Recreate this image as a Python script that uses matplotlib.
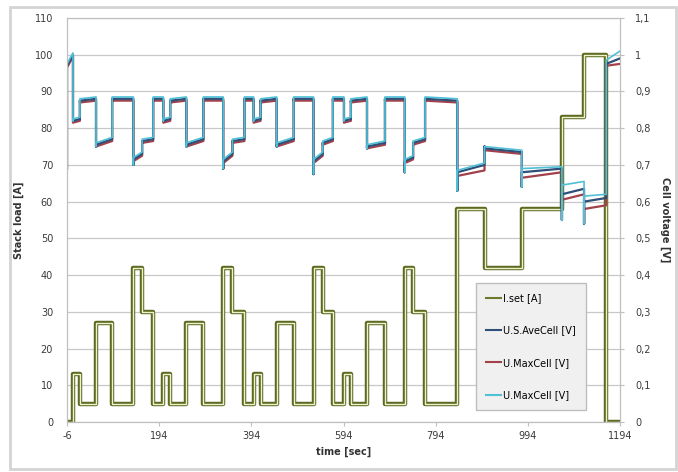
import numpy as np
import matplotlib
matplotlib.use("Agg")
import matplotlib.pyplot as plt
import matplotlib.patheffects as pe
from matplotlib.patches import Rectangle

# step segments (start time of each step, sec)
seg_start = [-6, 7, 22, 57, 92, 138, 157, 181,
             203, 218, 253, 290, 333, 353, 379,
             399, 414, 449, 486, 529, 549, 571,
             595, 610, 645, 684, 727, 745, 771,
             841, 900, 981, 1068, 1116, 1164]
t_end = 1194

# stack current set point [A]
i_set = [0, 13, 5, 27, 5, 42, 30, 5,
         13, 5, 27, 5, 42, 30, 5,
         13, 5, 27, 5, 42, 30, 5,
         13, 5, 27, 5, 42, 30, 5,
         58, 42, 58, 83, 100, 0]

# cell voltage [V]: spike at step, value at step start, value at step end
u_dip = [0.69,
         0.82, 0.875, 0.75, 0.88, 0.70, 0.765, 0.88,
         0.82, 0.875, 0.75, 0.88, 0.69, 0.765, 0.88,
         0.82, 0.875, 0.75, 0.88, 0.675, 0.76, 0.88,
         0.82, 0.875, 0.745, 0.88, 0.68, 0.76, 0.88,
         0.63, 0.75, 0.64, 0.55, 0.54, 0.975]
u_ave_start = [0.97,
               0.82, 0.875, 0.755, 0.88, 0.715, 0.765, 0.88,
               0.82, 0.875, 0.755, 0.88, 0.71, 0.765, 0.88,
               0.82, 0.875, 0.755, 0.88, 0.71, 0.76, 0.88,
               0.82, 0.875, 0.75, 0.88, 0.71, 0.76, 0.88,
               0.68, 0.745, 0.68, 0.62, 0.60, 0.975]
u_ave_end = [1.0,
             0.825, 0.88, 0.77, 0.88, 0.73, 0.77, 0.88,
             0.825, 0.88, 0.77, 0.88, 0.73, 0.77, 0.88,
             0.825, 0.88, 0.77, 0.88, 0.73, 0.77, 0.88,
             0.825, 0.88, 0.76, 0.88, 0.72, 0.77, 0.875,
             0.70, 0.735, 0.69, 0.635, 0.61, 0.99]
u_max_start = [0.965,
               0.815, 0.87, 0.75, 0.875, 0.71, 0.76, 0.875,
               0.815, 0.87, 0.75, 0.875, 0.705, 0.76, 0.875,
               0.815, 0.87, 0.75, 0.875, 0.705, 0.755, 0.875,
               0.815, 0.87, 0.745, 0.875, 0.705, 0.755, 0.875,
               0.67, 0.74, 0.665, 0.605, 0.58, 0.97]
u_max_end = [0.995,
             0.82, 0.875, 0.765, 0.875, 0.725, 0.765, 0.875,
             0.82, 0.875, 0.765, 0.875, 0.725, 0.765, 0.875,
             0.82, 0.875, 0.765, 0.875, 0.725, 0.765, 0.875,
             0.82, 0.875, 0.755, 0.875, 0.715, 0.765, 0.87,
             0.685, 0.73, 0.68, 0.62, 0.59, 0.975]
u_max2_start = [0.975,
                0.825, 0.88, 0.76, 0.885, 0.72, 0.77, 0.885,
                0.825, 0.88, 0.76, 0.885, 0.715, 0.77, 0.885,
                0.825, 0.88, 0.76, 0.885, 0.715, 0.765, 0.885,
                0.825, 0.88, 0.755, 0.885, 0.715, 0.765, 0.885,
                0.685, 0.75, 0.69, 0.645, 0.615, 0.985]
u_max2_end = [1.005,
              0.83, 0.885, 0.775, 0.885, 0.735, 0.775, 0.885,
              0.83, 0.885, 0.775, 0.885, 0.735, 0.775, 0.885,
              0.83, 0.885, 0.775, 0.885, 0.735, 0.775, 0.885,
              0.83, 0.885, 0.765, 0.885, 0.725, 0.775, 0.88,
              0.705, 0.74, 0.695, 0.655, 0.62, 1.01]

x_ticks = [-6, 194, 394, 594, 794, 994, 1194]
y_ticks = list(range(0, 111, 10))
v_ticks = [0, 0.1, 0.2, 0.3, 0.4, 0.5, 0.6, 0.7, 0.8, 0.9, 1.0, 1.1]
v_labels = ["0", "0,1", "0,2", "0,3", "0,4", "0,5", "0,6", "0,7", "0,8", "0,9", "1", "1,1"]

edges = seg_start + [t_end]


def volt_path(dip, start, end):
    xs, ys = [], []
    for k in range(len(seg_start)):
        xs += [edges[k], edges[k], edges[k + 1]]
        ys += [dip[k], start[k], end[k]]
    return xs, ys


fig = plt.figure(figsize=(6.78, 4.72), dpi=100)
fig.patches.append(Rectangle((10 / 678, 3 / 472), 666 / 678, 462 / 472, transform=fig.transFigure,
                             fill=False, edgecolor="#d4d4d4", linewidth=2))
ax = fig.add_axes([67 / 678, 50 / 472, 553 / 678, 404 / 472])
ax2 = ax.twinx()

ax.set_zorder(1)
ax.patch.set_visible(False)
ax2.set_zorder(2)

for a in (ax, ax2):
    for s in a.spines.values():
        s.set_color("#bfbfbf")
        s.set_linewidth(0.8)

ax.grid(axis="y", color="#c8c8c8", linewidth=0.9)
ax.set_axisbelow(True)

i_line, = ax.step(edges, i_set + [i_set[-1]], where="post", color="#6b7a2c", linewidth=1.2,
                  label="I.set [A]",
                  path_effects=[pe.Stroke(linewidth=3.2, foreground="#5d6b22"),
                                pe.Stroke(linewidth=1.0, foreground="#eef1cc")])

xs, ys = volt_path(u_dip, u_max_start, u_max_end)
l_max, = ax2.plot(xs, ys, color="#a3414b", linewidth=1.6, label="U.MaxCell [V]")
xs, ys = volt_path(u_dip, u_ave_start, u_ave_end)
l_ave, = ax2.plot(xs, ys, color="#2f4f78", linewidth=1.6, label="U.S.AveCell [V]")
xs, ys = volt_path(u_dip, u_max2_start, u_max2_end)
l_max2, = ax2.plot(xs, ys, color="#4fc0d6", linewidth=1.2, label="U.MaxCell [V]")

ax.set_xlim(-6, 1194)
ax.set_ylim(0, 110)
ax2.set_ylim(0, 1.1)
ax.set_xticks(x_ticks)
ax.set_xticklabels([str(v) for v in x_ticks])
ax.set_yticks(y_ticks)
ax2.set_yticks(v_ticks)
ax2.set_yticklabels(v_labels)

for a in (ax, ax2):
    a.tick_params(labelsize=7, colors="#3a3a3a", length=3, width=0.8)
    a.tick_params(color="#bfbfbf")
ax.tick_params(axis="y", length=0, pad=10)
ax2.tick_params(axis="y", pad=8)

ax.set_xlabel("time [sec]", fontsize=7, fontweight="bold", color="#333333", labelpad=4)
ax.set_ylabel("Stack load [A]", fontsize=7, fontweight="bold", color="#333333", labelpad=8)
ax2.set_ylabel("Cell voltage [V]", fontsize=7, fontweight="bold", color="#333333",
               rotation=270, labelpad=14)

leg = ax2.legend([i_line, l_ave, l_max, l_max2],
                 ["I.set [A]", "U.S.AveCell [V]", "U.MaxCell [V]", "U.MaxCell [V]"],
                 loc="lower left", bbox_to_anchor=(0.74, 0.03), fontsize=7, frameon=True,
                 fancybox=False, labelspacing=2.3, handlelength=1.6, handletextpad=0.2,
                 borderpad=1.0, borderaxespad=0)
leg.get_frame().set_facecolor("#f0f0f0")
leg.get_frame().set_edgecolor("#bdbdbd")
leg.get_frame().set_alpha(1)
for h in leg.legend_handles:
    h.set_path_effects([])
    h.set_linewidth(1.5)

fig.savefig("out.png", dpi=100)
